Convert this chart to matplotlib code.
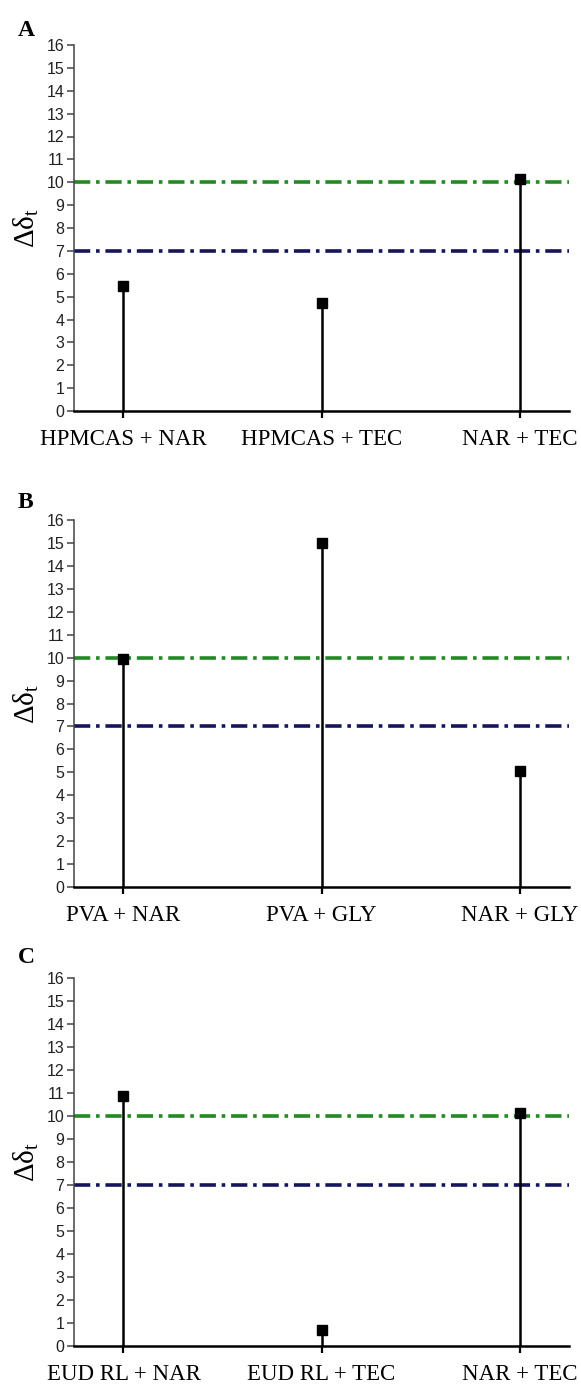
import matplotlib
matplotlib.use("Agg")
import matplotlib.pyplot as plt

plt.rcParams["mathtext.fontset"] = "custom"
plt.rcParams["mathtext.rm"] = "Liberation Serif"
plt.rcParams["mathtext.it"] = "Liberation Serif:italic"

# pair interactions per formulation
panel_letters = ["A", "B", "C"]
pairs_a = ["HPMCAS + NAR", "HPMCAS + TEC", "NAR + TEC"]
pairs_b = ["PVA + NAR", "PVA + GLY", "NAR + GLY"]
pairs_c = ["EUD RL + NAR", "EUD RL + TEC", "NAR + TEC"]
delta_a = [5.45, 4.7, 10.15]
delta_b = [9.95, 15.0, 5.05]
delta_c = [10.85, 0.7, 10.15]
miscible_limit = 7
immiscible_limit = 10
yticks = list(range(0, 17))

W, H = 581, 1387
fig = plt.figure(figsize=(W / 100, H / 100), dpi=100)

# axes boxes in pixels: (top of y=16, y=0)
boxes = [(45, 411), (520, 887), (978, 1346)]
letter_base = [36, 508, 963]
left_px, right_px = 74, 569

serif = "Liberation Serif"
sans = "Liberation Sans"

for letter, pairs, vals, (top, bot), lb in zip(
        panel_letters, [pairs_a, pairs_b, pairs_c],
        [delta_a, delta_b, delta_c], boxes, letter_base):
    ax = fig.add_axes([left_px / W, 1 - bot / H,
                       (right_px - left_px) / W, (bot - top) / H])
    x = [1, 2, 3]
    ax.axhline(immiscible_limit, color="#238a23", lw=2.6,
               ls=(0, (4.5, 1.6, 1.0, 1.6)), zorder=1)
    ax.axhline(miscible_limit, color="#15155e", lw=2.6,
               ls=(0, (4.5, 1.6, 1.0, 1.6)), zorder=1)
    ax.vlines(x, 0, vals, color="black", lw=1.8, zorder=3)
    ax.plot(x, vals, ls="none", marker="s", ms=7.5, color="black", zorder=4)

    ax.set_xlim(0.75, 3.25)
    ax.set_ylim(0, 16)
    ax.set_xticks(x)
    ax.set_xticklabels(pairs, fontsize=16.5, family=serif)
    ax.set_yticks(yticks)
    ax.set_yticklabels([str(v) for v in yticks], fontsize=11.5,
                       family=sans, color="#222222")
    for s in ["top", "right"]:
        ax.spines[s].set_visible(False)
    ax.spines["left"].set_color("#444444")
    ax.spines["left"].set_linewidth(1.1)
    ax.spines["bottom"].set_linewidth(1.8)
    ax.tick_params(axis="y", direction="out", length=5, width=1.1,
                   color="#444444", pad=2)
    ax.tick_params(axis="x", direction="out", length=5, width=1.6,
                   color="black", pad=8)
    ax.set_ylabel(r"$\mathrm{\Delta\delta}_\mathrm{t}$", fontsize=21,
                  labelpad=4)
    fig.text(18 / W, 1 - lb / H, letter, fontsize=17, family=serif,
             fontweight="bold", va="baseline", ha="left")

fig.savefig("out.png", dpi=100)
